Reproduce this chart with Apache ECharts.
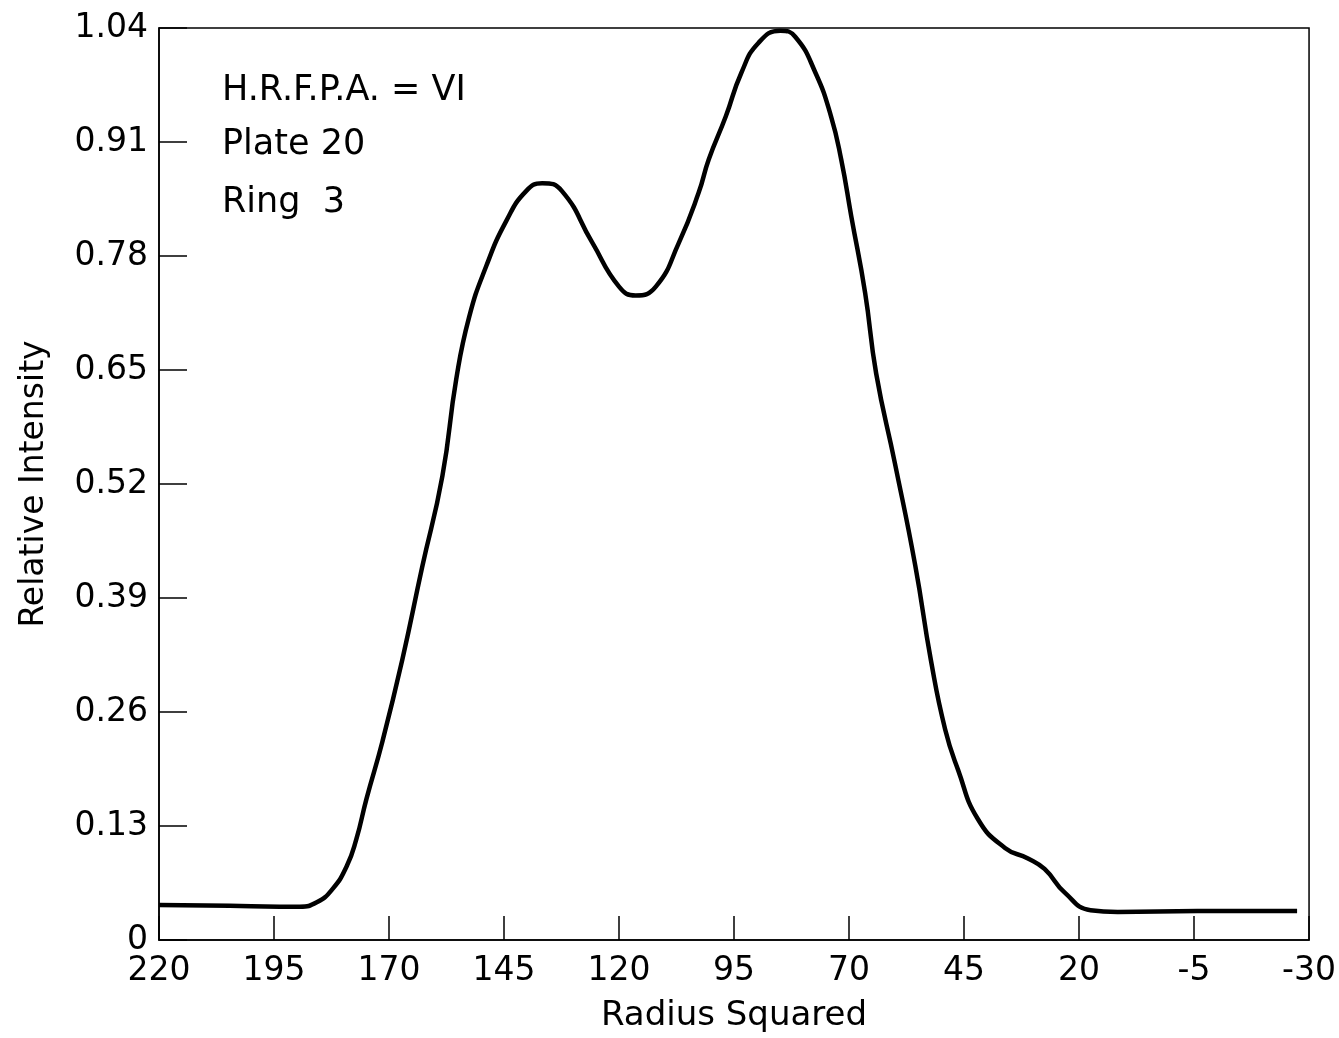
<!DOCTYPE html>
<html>
<head>
<meta charset="utf-8">
<script src="https://cdn.jsdelivr.net/npm/echarts@6/dist/echarts.min.js"></script>
<style>
html,body{margin:0;padding:0;background:#fff;}
#chart{width:1339px;height:1038px;}
</style>
</head>
<body>
<div id="chart"></div>
<script>
// Radius squared (x) and relative intensity (y)
var radiusSquared = [220, 204.6, 193.8, 189.4, 185.7, 182.3, 179.2, 177.1, 174.9, 171.4, 167.1, 162.8, 158.4, 155.4, 152.6, 148.9, 144.5, 140.2, 136.7, 132.4, 125.9, 120.0, 116.4, 112.0, 107.0, 102.7, 100.5, 96.8, 93.4, 89.7, 84.9, 81.7, 77.3, 73.9, 71.7, 69.5, 66.5, 64.1, 60.0, 55.6, 52.2, 49.1, 46.3, 42.0, 36.1, 31.1, 27.5, 23.1, 17.5, 11.6, -5.7, -27.4];
var intensity = [0.040, 0.039, 0.038, 0.038, 0.043, 0.058, 0.084, 0.115, 0.161, 0.227, 0.320, 0.425, 0.529, 0.639, 0.710, 0.768, 0.820, 0.854, 0.863, 0.854, 0.796, 0.745, 0.735, 0.745, 0.795, 0.852, 0.890, 0.939, 0.989, 1.023, 1.037, 1.030, 0.989, 0.939, 0.890, 0.825, 0.738, 0.646, 0.543, 0.427, 0.319, 0.240, 0.194, 0.138, 0.105, 0.093, 0.081, 0.054, 0.034, 0.032, 0.033, 0.033];
var annotations = ["H.R.F.P.A. = VI", "Plate 20", "Ring  3"];
var xTitle = "Radius Squared";
var yTitle = "Relative Intensity";

var points = radiusSquared.map(function (x, i) { return [x, intensity[i]]; });
var font = "DejaVu Sans";

var chart = echarts.init(document.getElementById('chart'));
chart.setOption({
  animation: false,
  backgroundColor: '#fff',
  grid: {left: 159, right: 27, top: 28, bottom: 97, show: true, borderColor: '#000', borderWidth: 1.5, backgroundColor: 'transparent'},
  xAxis: {
    type: 'value', min: -30, max: 220, interval: 25, inverse: true,
    name: xTitle, nameLocation: 'middle', nameGap: 59,
    nameTextStyle: {fontFamily: font, fontSize: 34, color: '#000'},
    axisLine: {show: true, onZero: false, lineStyle: {color: '#000', width: 1.5}},
    axisTick: {show: true, inside: true, length: 24, lineStyle: {color: '#000', width: 1.5}},
    axisLabel: {fontFamily: font, fontSize: 33, color: '#000', margin: 15},
    splitLine: {show: false}
  },
  yAxis: {
    type: 'value', min: 0, max: 1.04, interval: 0.13, position: 'left',
    name: yTitle, nameLocation: 'middle', nameGap: 108, nameRotate: 90,
    nameTextStyle: {fontFamily: font, fontSize: 33, color: '#000'},
    axisLine: {show: true, onZero: false, lineStyle: {color: '#000', width: 1.5}},
    axisTick: {show: true, inside: true, length: 28, lineStyle: {color: '#000', width: 1.5}},
    axisLabel: {fontFamily: font, fontSize: 33, color: '#000', margin: 11,
      formatter: function (v) { return v === 0 ? '0' : v.toFixed(2); }},
    splitLine: {show: false}
  },
  graphic: annotations.map(function (t, i) {
    return {type: 'text', left: 222, top: [73, 127, 185][i],
      style: {text: t, fontFamily: font, fontSize: 35, fill: '#000'}};
  }),
  series: [{
    type: 'line', data: points, smooth: 0.5, symbol: 'none',
    lineStyle: {color: '#000', width: 4.5}
  }]
});
</script>
</body>
</html>
